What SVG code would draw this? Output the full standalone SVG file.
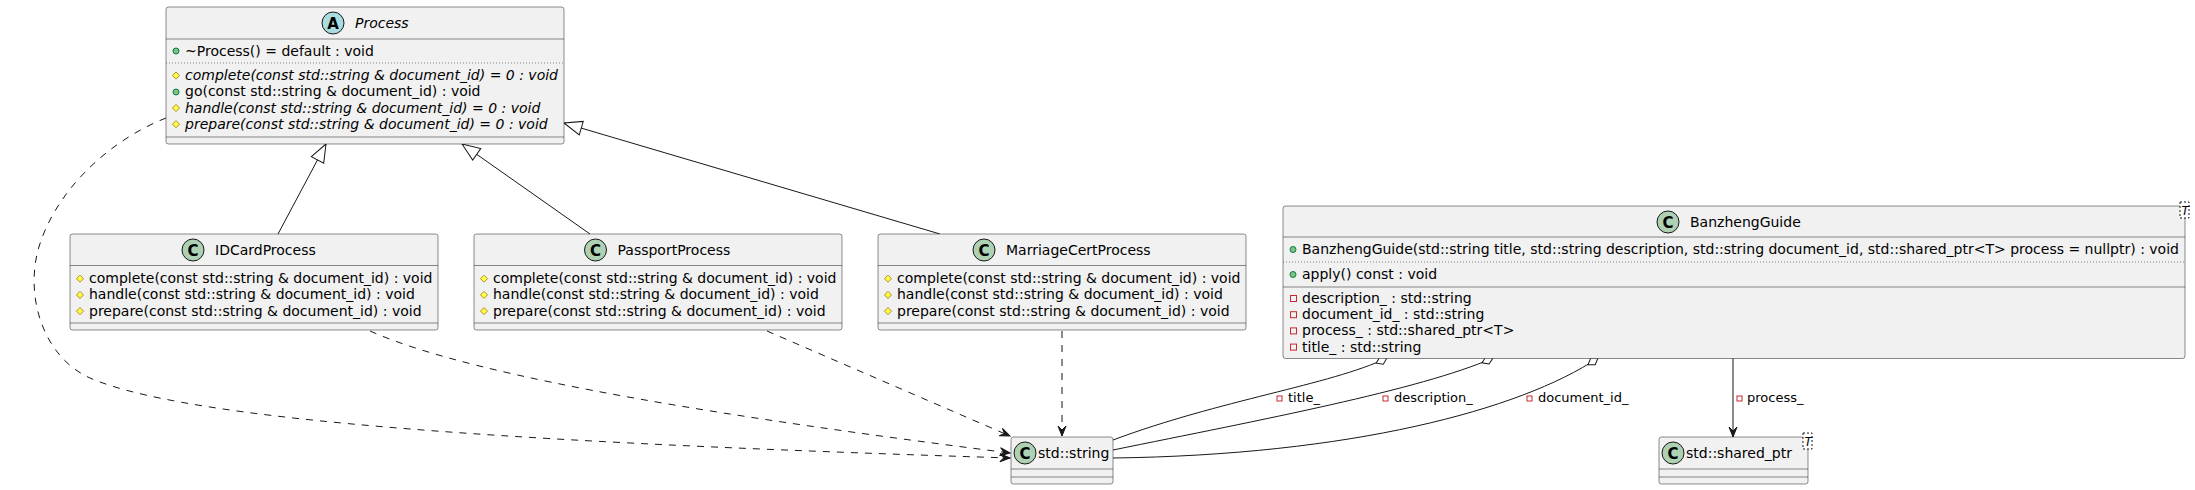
<svg xmlns="http://www.w3.org/2000/svg" width="2195" height="490" viewBox="0 0 2195 490">
<defs>
<style>
text{font-family:"DejaVu Sans","Liberation Sans",sans-serif;font-size:14px;fill:#000}
.box{fill:#F1F1F1;stroke:#181818;stroke-width:0.5}
.sep{stroke:#181818;stroke-width:0.5}
.dot{stroke:#181818;stroke-width:0.5;stroke-dasharray:1,2}
.ci{fill:#ADD1B2;stroke:#181818;stroke-width:1}
.ai{fill:#A9DCDF;stroke:#181818;stroke-width:1}
.lt{font-weight:bold;font-size:15px;text-anchor:middle}
.it{font-style:italic}
.pub{fill:#84BE84;stroke:#038048;stroke-width:1}
.pro{fill:#FFFF44;stroke:#B38D22;stroke-width:1}
.pri{fill:none;stroke:#C82930;stroke-width:1}
.edge{fill:none;stroke:#181818;stroke-width:1}
.dash{stroke-dasharray:7,7}
.lbl{font-size:13px}
.tpl{fill:#FFFFFF;stroke:#181818;stroke-width:1;stroke-dasharray:2,2}
.tt{font-size:12px;font-style:italic}
</style>
<marker id="tri" viewBox="-20 -10 22 20" markerWidth="22" markerHeight="20" refX="0" refY="0" orient="auto" markerUnits="userSpaceOnUse">
<path d="M0,0 L-18,-7 L-18,7 Z" fill="#FFFFFF" stroke="#181818" stroke-width="1"/>
</marker>
<marker id="arr" viewBox="-12 -6 14 12" markerWidth="14" markerHeight="12" refX="0" refY="0" orient="auto" markerUnits="userSpaceOnUse">
<path d="M0,0 L-10,-4 L-6,0 L-10,4 Z" fill="#181818" stroke="#181818" stroke-width="1"/>
</marker>
<marker id="dia" viewBox="-14 -6 16 12" markerWidth="16" markerHeight="12" refX="0" refY="0" orient="auto" markerUnits="userSpaceOnUse">
<path d="M0,0 L-6,-4 L-12,0 L-6,4 Z" fill="#FFFFFF" stroke="#181818" stroke-width="1"/>
</marker>
</defs>
<rect width="2195" height="490" fill="#FFFFFF"/>

<g id="connectors">
<path class="edge" d="M278,234 L326,144" marker-end="url(#tri)"/>
<path class="edge" d="M590,234 L462,144" marker-end="url(#tri)"/>
<path class="edge" d="M940,234 L564,123" marker-end="url(#tri)"/>
<path class="edge dash" d="M166,118 C110,140 55,190 38,250 C25,300 45,358 90,378 C200,426 600,445 1010,458" marker-end="url(#arr)"/>
<path class="edge dash" d="M370,331 C480,380 750,420 1010,453" marker-end="url(#arr)"/>
<path class="edge dash" d="M767,331 L1010,436" marker-end="url(#arr)"/>
<path class="edge dash" d="M1062,331 L1062,436" marker-end="url(#arr)"/>
<path class="edge" d="M1113,440 C1220,400 1330,385 1387,358" marker-end="url(#dia)"/>
<path class="edge" d="M1113,450 C1260,420 1420,390 1493,358" marker-end="url(#dia)"/>
<path class="edge" d="M1113,458 C1350,455 1520,410 1598,358" marker-end="url(#dia)"/>
<path class="edge" d="M1733,358 L1733,437" marker-end="url(#arr)"/>
<rect class="pri" x="1277" y="396" width="5" height="5"/>
<text class="lbl" x="1288" y="402">title_</text>
<rect class="pri" x="1383" y="396" width="5" height="5"/>
<text class="lbl" x="1394" y="402">description_</text>
<rect class="pri" x="1527" y="396" width="5" height="5"/>
<text class="lbl" x="1538" y="402">document_id_</text>
<rect class="pri" x="1737" y="396" width="5" height="5"/>
<text class="lbl" x="1747" y="402">process_</text>
</g>

<g id="Process">
<rect class="box" x="166" y="7" width="398" height="137" rx="2.5"/>
<circle class="ai" cx="333" cy="23" r="11"/>
<text class="lt" x="333" y="28.5">A</text>
<text class="it" x="355" y="28">Process</text>
<line class="sep" x1="166" y1="39" x2="564" y2="39"/>
<circle class="pub" cx="176" cy="51" r="3"/>
<text x="185" y="55.5">~Process() = default : void</text>
<line class="dot" x1="166" y1="63" x2="564" y2="63"/>
<polygon class="pro" points="176,72 179.5,75.5 176,79 172.5,75.5"/>
<text class="it" x="185" y="80">complete(const std::string &amp; document_id) = 0 : void</text>
<circle class="pub" cx="176" cy="92" r="3"/>
<text x="185" y="96.3">go(const std::string &amp; document_id) : void</text>
<polygon class="pro" points="176,104.5 179.5,108 176,111.5 172.5,108"/>
<text class="it" x="185" y="112.5">handle(const std::string &amp; document_id) = 0 : void</text>
<polygon class="pro" points="176,120.7 179.5,124.2 176,127.7 172.5,124.2"/>
<text class="it" x="185" y="128.7">prepare(const std::string &amp; document_id) = 0 : void</text>
<line class="sep" x1="166" y1="137" x2="564" y2="137"/>
</g>

<g id="IDCardProcess">
<rect class="box" x="70" y="234" width="368" height="96" rx="2.5"/>
<circle class="ci" cx="193" cy="250" r="11"/>
<text class="lt" x="193" y="255.5">C</text>
<text x="215" y="255">IDCardProcess</text>
<line class="sep" x1="70" y1="265.5" x2="438" y2="265.5"/>
<polygon class="pro" points="80,275.2 83.5,278.7 80,282.2 76.5,278.7"/>
<text x="89" y="283.2">complete(const std::string &amp; document_id) : void</text>
<polygon class="pro" points="80,291.4 83.5,294.9 80,298.4 76.5,294.9"/>
<text x="89" y="299.4">handle(const std::string &amp; document_id) : void</text>
<polygon class="pro" points="80,307.6 83.5,311.1 80,314.6 76.5,311.1"/>
<text x="89" y="315.6">prepare(const std::string &amp; document_id) : void</text>
<line class="sep" x1="70" y1="323" x2="438" y2="323"/>
</g>

<g id="PassportProcess">
<rect class="box" x="474" y="234" width="368" height="96" rx="2.5"/>
<circle class="ci" cx="595.5" cy="250" r="11"/>
<text class="lt" x="595.5" y="255.5">C</text>
<text x="617.5" y="255">PassportProcess</text>
<line class="sep" x1="474" y1="265.5" x2="842" y2="265.5"/>
<polygon class="pro" points="484,275.2 487.5,278.7 484,282.2 480.5,278.7"/>
<text x="493" y="283.2">complete(const std::string &amp; document_id) : void</text>
<polygon class="pro" points="484,291.4 487.5,294.9 484,298.4 480.5,294.9"/>
<text x="493" y="299.4">handle(const std::string &amp; document_id) : void</text>
<polygon class="pro" points="484,307.6 487.5,311.1 484,314.6 480.5,311.1"/>
<text x="493" y="315.6">prepare(const std::string &amp; document_id) : void</text>
<line class="sep" x1="474" y1="323" x2="842" y2="323"/>
</g>

<g id="MarriageCertProcess">
<rect class="box" x="878" y="234" width="368" height="96" rx="2.5"/>
<circle class="ci" cx="984" cy="250" r="11"/>
<text class="lt" x="984" y="255.5">C</text>
<text x="1006" y="255">MarriageCertProcess</text>
<line class="sep" x1="878" y1="265.5" x2="1246" y2="265.5"/>
<polygon class="pro" points="888,275.2 891.5,278.7 888,282.2 884.5,278.7"/>
<text x="897" y="283.2">complete(const std::string &amp; document_id) : void</text>
<polygon class="pro" points="888,291.4 891.5,294.9 888,298.4 884.5,294.9"/>
<text x="897" y="299.4">handle(const std::string &amp; document_id) : void</text>
<polygon class="pro" points="888,307.6 891.5,311.1 888,314.6 884.5,311.1"/>
<text x="897" y="315.6">prepare(const std::string &amp; document_id) : void</text>
<line class="sep" x1="878" y1="323" x2="1246" y2="323"/>
</g>

<g id="BanzhengGuide">
<rect class="box" x="1283" y="206" width="902" height="152.5" rx="2.5"/>
<circle class="ci" cx="1668" cy="222" r="11"/>
<text class="lt" x="1668" y="227.5">C</text>
<text x="1690" y="227">BanzhengGuide</text>
<rect class="tpl" x="2180" y="202" width="9" height="16"/>
<text class="tt" x="2181.5" y="214.5">T</text>
<line class="sep" x1="1283" y1="237" x2="2185" y2="237"/>
<circle class="pub" cx="1293" cy="249.5" r="3"/>
<text x="1302" y="254">BanzhengGuide(std::string title, std::string description, std::string document_id, std::shared_ptr&lt;T&gt; process = nullptr) : void</text>
<line class="dot" x1="1283" y1="262" x2="2185" y2="262"/>
<circle class="pub" cx="1293" cy="274.5" r="3"/>
<text x="1302" y="279">apply() const : void</text>
<line class="sep" x1="1283" y1="287" x2="2185" y2="287"/>
<rect class="pri" x="1290.5" y="295.5" width="6" height="6"/>
<text x="1302" y="303">description_ : std::string</text>
<rect class="pri" x="1290.5" y="311.7" width="6" height="6"/>
<text x="1302" y="319.2">document_id_ : std::string</text>
<rect class="pri" x="1290.5" y="327.9" width="6" height="6"/>
<text x="1302" y="335.4">process_ : std::shared_ptr&lt;T&gt;</text>
<rect class="pri" x="1290.5" y="344.1" width="6" height="6"/>
<text x="1302" y="351.6">title_ : std::string</text>
</g>

<g id="std_string">
<rect class="box" x="1011" y="437" width="102" height="47" rx="2.5"/>
<circle class="ci" cx="1025" cy="453" r="11"/>
<text class="lt" x="1025" y="458.5">C</text>
<text x="1038" y="458">std::string</text>
<line class="sep" x1="1011" y1="469" x2="1113" y2="469"/>
<line class="sep" x1="1011" y1="477" x2="1113" y2="477"/>
</g>

<g id="std_shared_ptr">
<rect class="box" x="1659" y="437" width="149" height="47" rx="2.5"/>
<circle class="ci" cx="1673" cy="453" r="11"/>
<text class="lt" x="1673" y="458.5">C</text>
<text x="1686" y="458">std::shared_ptr</text>
<rect class="tpl" x="1803" y="433" width="9" height="16"/>
<text class="tt" x="1804.5" y="445.5">T</text>
<line class="sep" x1="1659" y1="469" x2="1808" y2="469"/>
<line class="sep" x1="1659" y1="477" x2="1808" y2="477"/>
</g>
</svg>
